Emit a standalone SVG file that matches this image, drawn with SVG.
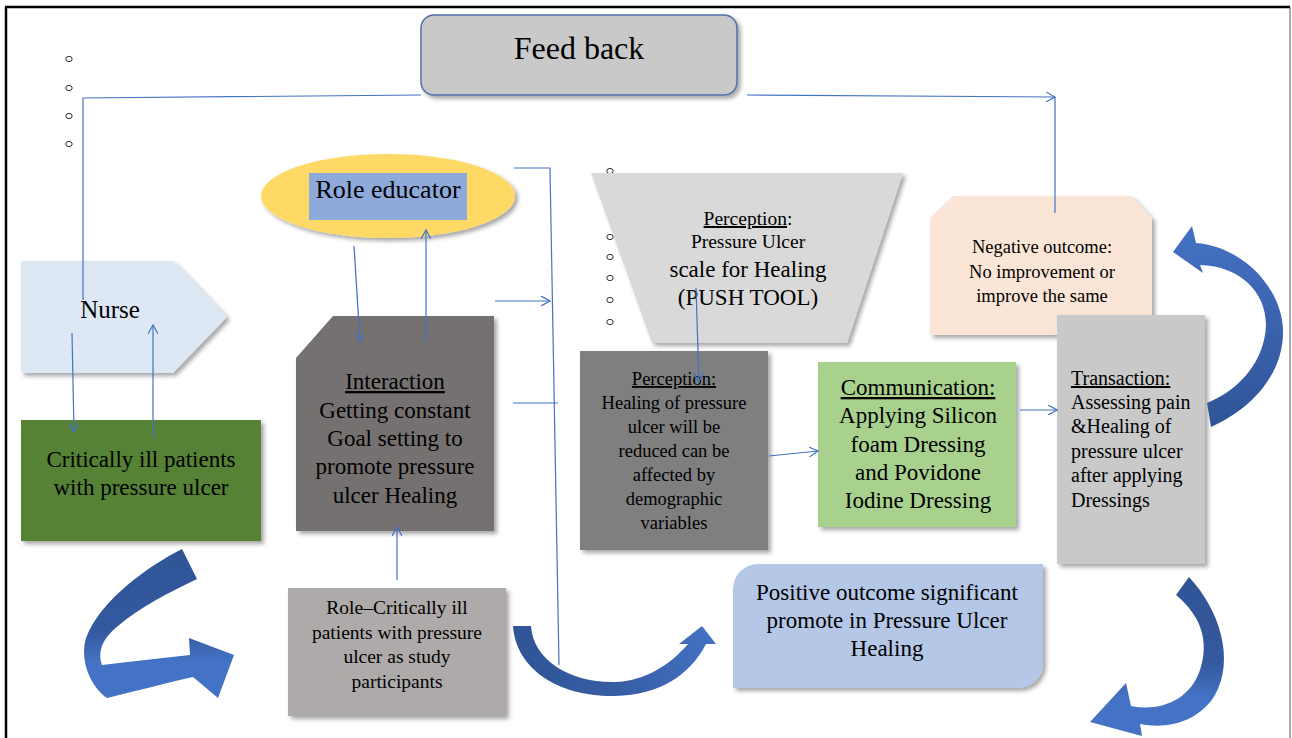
<svg xmlns="http://www.w3.org/2000/svg" width="1292" height="738" viewBox="0 0 1292 738">
  <defs>
    <style>
      text { font-family: "Liberation Serif", "Times New Roman", serif; fill: #000; }
      .c { text-anchor: middle; }
      .u { text-decoration: underline; }
      .link { fill: none; stroke: #4472c4; stroke-width: 1.2; }
      .bullet { fill: none; stroke: #333; stroke-width: 1; }
      .shade { filter: url(#sh); }
    </style>
    <filter id="sh" x="-10%" y="-10%" width="130%" height="130%">
      <feDropShadow dx="3" dy="3" stdDeviation="2" flood-color="#000" flood-opacity="0.35"/>
    </filter>
    <marker id="open" viewBox="0 0 10 10" refX="9" refY="5" markerWidth="10" markerHeight="10" markerUnits="userSpaceOnUse" orient="auto">
      <path d="M0,0 L9,5 L0,10" fill="none" stroke="#4472c4" stroke-width="1.2"/>
    </marker>
    <linearGradient id="gDown" x1="0" y1="0" x2="0" y2="1">
      <stop offset="0" stop-color="#2f5597"/>
      <stop offset="0.55" stop-color="#34599e"/>
      <stop offset="0.75" stop-color="#4472c4"/>
      <stop offset="1" stop-color="#4472c4"/>
    </linearGradient>
    <linearGradient id="gRight" x1="0" y1="0" x2="1" y2="0">
      <stop offset="0" stop-color="#2f5597"/>
      <stop offset="0.5" stop-color="#365ca3"/>
      <stop offset="1" stop-color="#4472c4"/>
    </linearGradient>
    <linearGradient id="gUp" x1="0" y1="0" x2="0" y2="1">
      <stop offset="0" stop-color="#4472c4"/>
      <stop offset="0.5" stop-color="#3a62ad"/>
      <stop offset="1" stop-color="#2f5597"/>
    </linearGradient>
  </defs>

  <rect width="1292" height="738" fill="#fff"/>
  <!-- page frame -->
  <line x1="5" y1="7" x2="1290" y2="7" stroke="#000" stroke-width="2.5"/>
  <line x1="6" y1="7" x2="6" y2="738" stroke="#000" stroke-width="2.5"/>
  <line x1="1290" y1="7" x2="1290" y2="738" stroke="#555" stroke-width="1"/>

  <!-- stray list bullets -->
  <g id="bullets">
    <ellipse class="bullet" cx="69" cy="59" rx="3.2" ry="2.6"/>
    <ellipse class="bullet" cx="69" cy="88" rx="3.2" ry="2.6"/>
    <ellipse class="bullet" cx="69" cy="116" rx="3.2" ry="2.6"/>
    <ellipse class="bullet" cx="69" cy="144" rx="3.2" ry="2.6"/>
    <ellipse class="bullet" cx="610" cy="171" rx="3.2" ry="2.6"/>
    <ellipse class="bullet" cx="610" cy="237" rx="3.2" ry="2.6"/>
    <ellipse class="bullet" cx="610" cy="257" rx="3.2" ry="2.6"/>
    <ellipse class="bullet" cx="610" cy="278" rx="3.2" ry="2.6"/>
    <ellipse class="bullet" cx="610" cy="300" rx="3.2" ry="2.6"/>
    <ellipse class="bullet" cx="610" cy="322" rx="3.2" ry="2.6"/>
  </g>

  <!-- feedback box -->
  <g id="feedback">
    <rect class="shade" x="421" y="15" width="316" height="80" rx="13" fill="#c9c9c9" stroke="#4f6fa8" stroke-width="1.5"/>
    <text class="c" x="579" y="59" font-size="32">Feed back</text>
  </g>

  <!-- role educator -->
  <g id="role-educator">
    <ellipse class="shade" cx="388" cy="196" rx="127" ry="42" fill="#ffd966"/>
    <rect x="309" y="173" width="158" height="47" fill="#8eaadb"/>
    <text class="c" x="388" y="198" font-size="26">Role educator</text>
  </g>

  <!-- nurse -->
  <g id="nurse">
    <polygon class="shade" points="21,261 173,261 227,317 173,373 21,373" fill="#dde8f4"/>
    <text class="c" x="110" y="318" font-size="25">Nurse</text>
  </g>

  <!-- critically ill patients -->
  <g id="patients">
    <rect class="shade" x="21" y="420" width="240" height="121" fill="#548235"/>
    <text class="c" x="141" y="467" font-size="23">Critically ill patients</text>
    <text class="c" x="141" y="495" font-size="23">with pressure ulcer</text>
  </g>

  <!-- interaction -->
  <g id="interaction">
    <polygon class="shade" points="333,316 494,316 494,531 296,531 296,358" fill="#767171"/>
    <text class="c" x="395" y="389" font-size="23"><tspan class="u">Interaction</tspan></text>
    <text class="c" x="395" y="418" font-size="23">Getting constant</text>
    <text class="c" x="395" y="446" font-size="23">Goal setting to</text>
    <text class="c" x="395" y="474" font-size="23">promote pressure</text>
    <text class="c" x="395" y="503" font-size="23">ulcer Healing</text>
  </g>

  <!-- role: participants -->
  <g id="participants">
    <rect class="shade" x="288" y="588" width="218" height="128" fill="#aeaaaa"/>
    <text class="c" x="397" y="614" font-size="19.5">Role–Critically ill</text>
    <text class="c" x="397" y="639" font-size="19.5">patients with pressure</text>
    <text class="c" x="397" y="663" font-size="19.5">ulcer as study</text>
    <text class="c" x="397" y="688" font-size="19.5">participants</text>
  </g>

  <!-- perception: PUSH tool -->
  <g id="perception-tool">
    <polygon class="shade" points="591,173 903,173 847,343 652,343" fill="#d9d9d9"/>
    <text class="c" x="748" y="225" font-size="19.5"><tspan class="u">Perception</tspan>:</text>
    <text class="c" x="748" y="248" font-size="19.5">Pressure Ulcer</text>
    <text class="c" x="748" y="277" font-size="23">scale for Healing</text>
    <text class="c" x="748" y="305" font-size="23">(PUSH TOOL)</text>
  </g>

  <!-- perception: healing -->
  <g id="perception-healing">
    <rect class="shade" x="580" y="351" width="188" height="199" fill="#7f7f7f"/>
    <text class="c" x="674" y="385" font-size="18.5"><tspan class="u">Perception:</tspan></text>
    <text class="c" x="674" y="409" font-size="18.5">Healing of pressure</text>
    <text class="c" x="674" y="433" font-size="18.5">ulcer will be</text>
    <text class="c" x="674" y="457" font-size="18.5">reduced can be</text>
    <text class="c" x="674" y="481" font-size="18.5">affected by</text>
    <text class="c" x="674" y="505" font-size="18.5">demographic</text>
    <text class="c" x="674" y="529" font-size="18.5">variables</text>
  </g>

  <!-- communication -->
  <g id="communication">
    <rect class="shade" x="818" y="362" width="198" height="165" fill="#a9d18e"/>
    <text class="c" x="918" y="395" font-size="23"><tspan class="u">Communication:</tspan></text>
    <text class="c" x="918" y="423" font-size="23">Applying Silicon</text>
    <text class="c" x="918" y="452" font-size="23">foam Dressing</text>
    <text class="c" x="918" y="480" font-size="23">and Povidone</text>
    <text class="c" x="918" y="508" font-size="23">Iodine Dressing</text>
  </g>

  <!-- negative outcome -->
  <g id="negative">
    <polygon class="shade" points="930,218 953,196 1131,196 1152,218 1152,335 930,335" fill="#fbe5d6"/>
    <text class="c" x="1042" y="253" font-size="18.5">Negative outcome:</text>
    <text class="c" x="1042" y="278" font-size="18.5">No improvement or</text>
    <text class="c" x="1042" y="302" font-size="18.5">improve the same</text>
  </g>

  <!-- transaction -->
  <g id="transaction">
    <rect class="shade" x="1057" y="315" width="148" height="249" fill="#c9c9c9"/>
    <text x="1071" y="385" font-size="20"><tspan class="u">Transaction:</tspan></text>
    <text x="1071" y="409" font-size="20">Assessing pain</text>
    <text x="1071" y="433" font-size="20">&amp;Healing of</text>
    <text x="1071" y="458" font-size="20">pressure ulcer</text>
    <text x="1071" y="482" font-size="20">after applying</text>
    <text x="1071" y="507" font-size="20">Dressings</text>
  </g>

  <!-- positive outcome -->
  <g id="positive">
    <path class="shade" d="M758,564 L1043,564 L1043,663 A25,25 0 0 1 1018,688 L733,688 L733,589 A25,25 0 0 1 758,564 Z" fill="#b4c7e7"/>
    <text class="c" x="887" y="600" font-size="23">Positive outcome significant</text>
    <text class="c" x="887" y="628" font-size="23">promote in Pressure Ulcer</text>
    <text class="c" x="887" y="656" font-size="23">Healing</text>
  </g>

  <!-- curved block arrows -->
  <g id="cycle-arrows">
    <path d="M182,549 C150,565 100,600 86,638 C79,662 92,688 107,698 C140,690 170,682 193,677 L218,698 L234,655 L189,638 L190,655 C160,658 130,662 102,665 C97,650 104,637 118,626 C140,607 170,592 197,579 Z" fill="url(#gDown)"/>
    <path d="M513,626 L531,626 C533,660 570,683 615,682 C645,681 670,665 688,644 L679,644 L702,626 L716,644 L706,644 C690,675 660,695 615,696 C560,697 516,670 513,626 Z" fill="url(#gRight)"/>
    <path d="M1173,252 L1192,226 L1196,243 C1245,247 1282,290 1283,330 C1284,375 1250,410 1211,427 L1207,403 C1240,390 1265,360 1266,325 C1266,292 1240,266 1200,265 L1203,273 Z" fill="url(#gUp)"/>
    <path d="M1176,595 L1189,577 C1220,610 1235,660 1215,695 C1200,720 1170,730 1140,724 L1142,736 L1090,722 L1126,683 L1131,706 C1160,712 1190,700 1200,670 C1210,640 1200,615 1176,595 Z" fill="url(#gDown)"/>
  </g>

  <!-- connectors -->
  <g id="connectors">
    <path class="link" d="M421,95 L83,98 L83,300"/>
    <path class="link" d="M747,95 L1055,97" marker-end="url(#open)"/>
    <path class="link" d="M1055,97 L1055,213"/>
    <path class="link" d="M72,333 L74,432" marker-end="url(#open)"/>
    <path class="link" d="M153,438 L153,325" marker-end="url(#open)"/>
    <path class="link" d="M354,246 L360,342" marker-end="url(#open)"/>
    <path class="link" d="M426,342 L426,230" marker-end="url(#open)"/>
    <path class="link" d="M397,580 L397,527" marker-end="url(#open)"/>
    <path class="link" d="M495,301 L550,301" marker-end="url(#open)"/>
    <path class="link" d="M514,168 L550,168 L559,665"/>
    <path class="link" d="M513,403 L558,403"/>
    <path class="link" d="M696,288 L699,382" marker-end="url(#open)"/>
    <path class="link" d="M769,456 L818,451" marker-end="url(#open)"/>
    <path class="link" d="M1020,410 L1057,410" marker-end="url(#open)"/>
  </g>
</svg>
